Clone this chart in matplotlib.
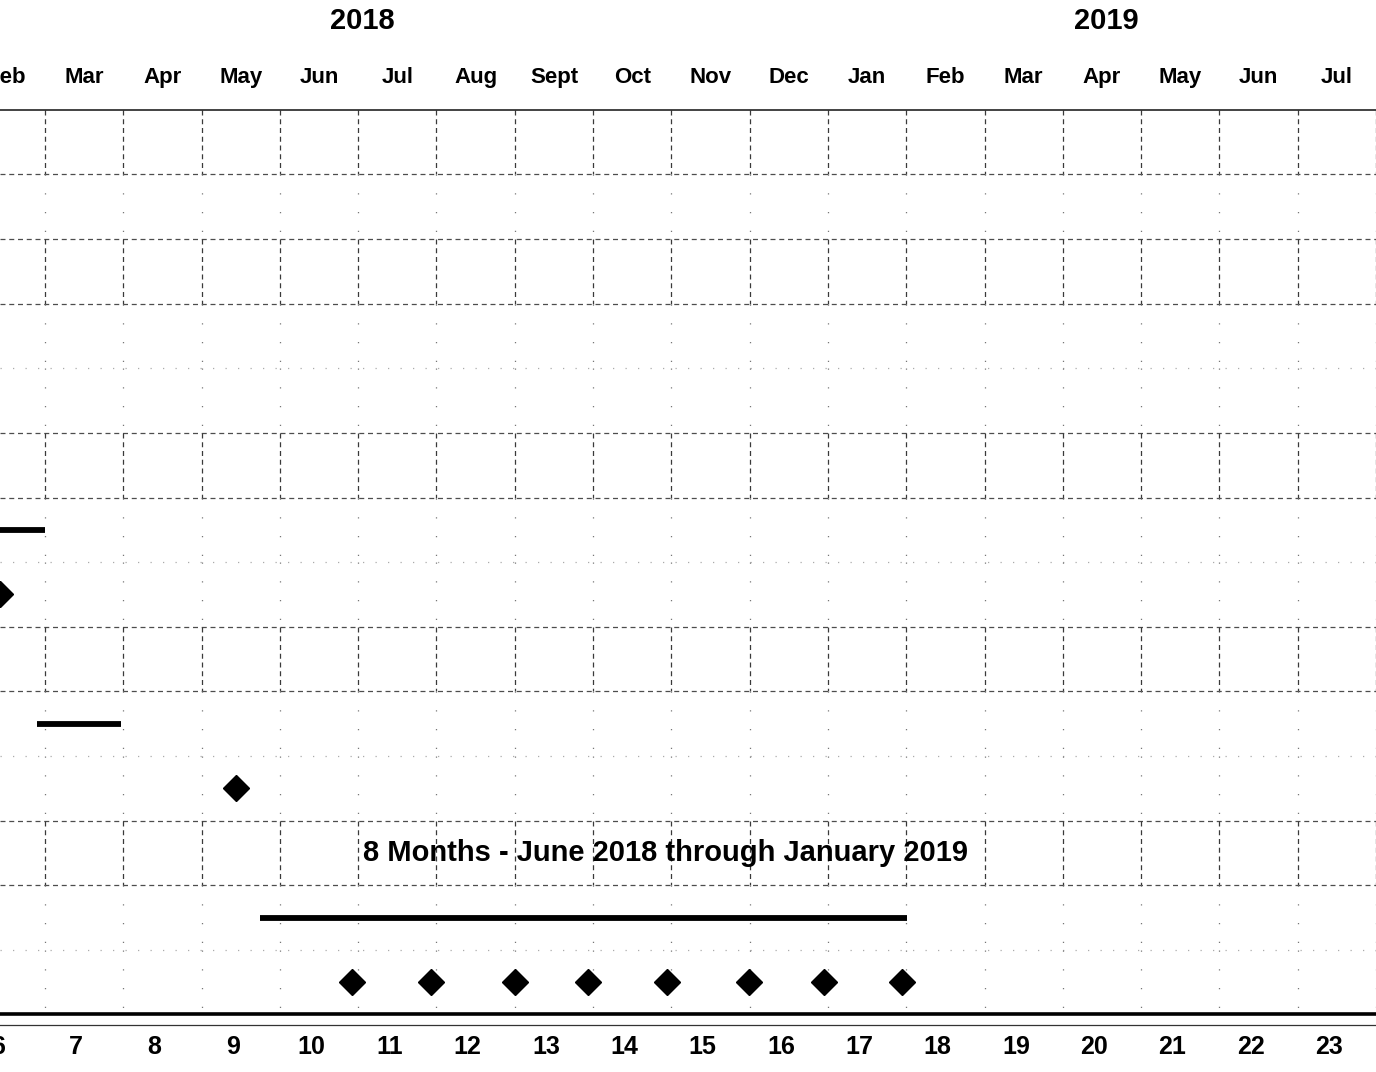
import matplotlib
matplotlib.use("Agg")
import matplotlib.pyplot as plt
from matplotlib import font_manager

# month columns (cell centred on its month number)
month_nums = list(range(6, 24))
month_labels = ['Feb', 'Mar', 'Apr', 'May', 'Jun', 'Jul', 'Aug', 'Sept', 'Oct', 'Nov',
                'Dec', 'Jan', 'Feb', 'Mar', 'Apr', 'May', 'Jun', 'Jul']
years = ['2018', '2019']
year_x = [10.55, 20.06]

# task bars: row, start, end
bar_rows = [6, 9, 12]
bar_start = [5.9, 6.4, 9.25]
bar_end = [6.5, 7.47, 17.51]

# milestones (diamonds)
ms_rows = [7, 10, 13, 13, 13, 13, 13, 13, 13, 13]
ms_x = [5.93, 8.94, 10.42, 11.43, 12.5, 13.44, 14.44, 15.49, 16.45, 17.45]

note = '8 Months - June 2018 through January 2019'
note_x, note_row = 14.42, 11

n_rows = 14
boxed_rows = [0, 2, 5, 8, 11]

names = {f.name for f in font_manager.fontManager.ttflist}
narrow = 'Liberation Sans Narrow' if 'Liberation Sans Narrow' in names else 'Liberation Sans'

fig = plt.figure(figsize=(13.76, 10.72), dpi=100)
ax = fig.add_axes([0, 0, 1, 1])
ax.set_xlim(5.925, 23.5)
ax.set_ylim(14.89, -1.70)
ax.axis('off')

grid_c = '#3a3a3a'
bounds = [m + 0.5 for m in month_nums]

# horizontal grid
for r in range(1, n_rows):
    strong = (r - 1) in boxed_rows or r in boxed_rows
    ax.axhline(r, color=grid_c if strong else '#888888', lw=0.9,
               dashes=(4, 3) if strong else (1, 9), alpha=0.9 if strong else 0.7)

# vertical grid, dashed in boxed rows, sparse dots elsewhere
for b in bounds:
    for r in range(n_rows):
        if r in boxed_rows:
            ax.plot([b, b], [r, r + 1], color=grid_c, lw=0.9, dashes=(4, 3))
        else:
            ax.plot([b, b], [r, r + 1], color='#777777', lw=0.9, dashes=(1, 14))

# header rule and bottom double rule
ax.axhline(0, color='#222222', lw=1.2)
ax.axhline(14.0, color='black', lw=2.6)
ax.axhline(14.16, color='#333333', lw=0.9)

# month and year labels
for m, lab in zip(month_nums, month_labels):
    ax.text(m, -0.5, lab, ha='center', va='center', fontsize=16,
            fontweight='bold', family=narrow)
    ax.text(m - 0.1, 14.5, str(m), ha='center', va='center', fontsize=18,
            fontweight='bold', family=narrow)
for yx, yl in zip(year_x, years):
    ax.text(yx, -1.37, yl, ha='center', va='center', fontsize=21,
            fontweight='bold', family='Liberation Sans')

# bars
for r, s, e in zip(bar_rows, bar_start, bar_end):
    ax.plot([s, e], [r + 0.5, r + 0.5], color='black', lw=4.2, solid_capstyle='butt')

# milestones
ax.plot(ms_x, [r + 0.5 for r in ms_rows], 'D', color='black', markersize=13)

ax.text(note_x, note_row + 0.5, note, ha='center', va='center', fontsize=21,
        fontweight='bold', family=narrow)

fig.savefig('out.png', dpi=100)
